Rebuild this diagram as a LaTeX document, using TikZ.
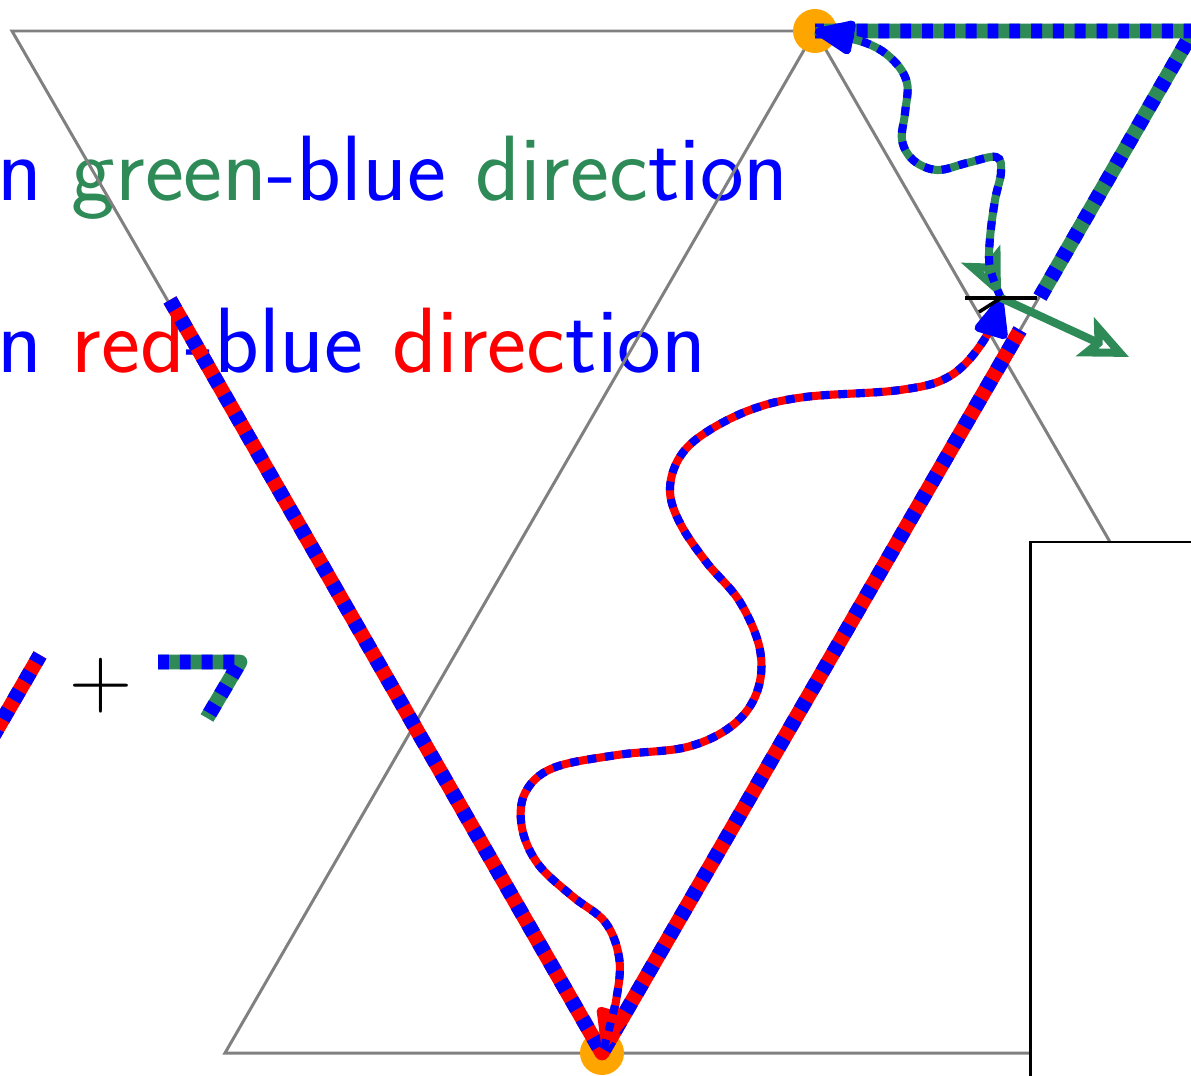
\documentclass[tikz,border=0pt]{standalone}
\usepackage{xcolor}
\usepackage{tikz}
\usetikzlibrary{arrows.meta}
\definecolor{linegreen}{HTML}{2E8B57}
\definecolor{lineorange}{HTML}{FFA500}
\definecolor{linegray}{HTML}{808080}

\begin{document}
\begin{tikzpicture}[x=0.01cm,y=-0.01cm,
  lattice/.style={linegray,line width=0.85pt},
  thickbase/.style={line width=4.2pt,line join=round},
  thickdash/.style={line width=4.2pt,line join=round,dash pattern=on 3.1pt off 3.1pt},
  wavybase/.style={line width=2.3pt},
  wavydash/.style={line width=2.3pt,dash pattern=on 2.5pt off 2.5pt},
  bigtext/.style={anchor=base west,inner sep=0pt,font=\sffamily\fontsize{26.4}{32}\selectfont},
  fulltip/.tip={Triangle[length=4.6mm,width=3.6mm,round]},
  opentip/.tip={Stealth[open,length=4.8mm,width=4.2mm,inset=1mm]}]
\useasboundingbox (0,0) rectangle (1191,1076);
\clip (0,0) rectangle (1191,1076);
\coordinate (P) at (1001,298);
\coordinate (topdot) at (815,31);
\coordinate (botdot) at (602,1053);
\coordinate (gtip) at (1129,357);
\node[bigtext] (gbtext) at (-3,201) {\color{blue}n \color{linegreen}green\color{blue}-blue \color{linegreen}direc\color{blue}tion};
\node[bigtext] (rbtext) at (-3,372) {\color{blue}n \color{red}red\color{blue}-blue \color{red}direc\color{blue}tion};
\draw[lattice] (1300,31) -- (12,31) -- (botdot);
\draw[lattice] (1193,31) -- (botdot);
\draw[lattice] (topdot) -- (225,1053) -- (1300,1053);
\draw[lattice] (topdot) -- (1405,1053);
\draw[line width=0.85pt,fill=white] (1030,542) rectangle (1300,1200);
\fill[lineorange] (topdot) circle (22);
\fill[lineorange] (botdot) circle (22);
\draw[thickbase,red] (170,300) -- (botdot) -- (1020,330);
\draw[thickdash,blue] (170,300) -- (botdot) -- (1020,330);
\draw[thickbase,linegreen] (1040,297) -- (1193,31) -- (topdot);
\draw[thickdash,blue] (1040,297) -- (1193,31) -- (topdot);
\draw[wavybase,red,fulltip-] plot[smooth,tension=0.6] coordinates {(604,1048) (617,995) (619,957) (605,922) (572,896) (538,864) (522,828) (525,793) (553,768) (617,755) (687,747) (733,725) (757,692) (760,650) (740,602) (707,563) (681,525) (670,492) (678,460) (702,435) (750,410) (805,397) (900,390) (950,376) (984,340) (P)};
\draw[wavydash,blue,-fulltip] plot[smooth,tension=0.6] coordinates {(604,1048) (617,995) (619,957) (605,922) (572,896) (538,864) (522,828) (525,793) (553,768) (617,755) (687,747) (733,725) (757,692) (760,650) (740,602) (707,563) (681,525) (670,492) (678,460) (702,435) (750,410) (805,397) (900,390) (950,376) (984,340) (P)};
\draw[wavybase,linegreen,opentip-] plot[smooth,tension=0.6] coordinates {(P) (990,268) (990,238) (995,200) (1001,172) (996,157) (967,163) (937,170) (913,160) (902,140) (905,113) (907,83) (893,60) (866,43) (topdot)};
\draw[wavydash,blue,-fulltip] plot[smooth,tension=0.6] coordinates {(P) (990,268) (990,238) (995,200) (1001,172) (996,157) (967,163) (937,170) (913,160) (902,140) (905,113) (907,83) (893,60) (866,43) (topdot)};
\draw[linegreen,line width=2.3pt,-opentip] (P) -- (gtip);
\draw[line width=1pt] (965,298) -- (1037,298);
\draw[line width=1pt] (979,312) -- (P);
\draw[thickbase,red] (40,655) -- (-8,738);
\draw[thickdash,blue] (-8,738) -- (40,655);
\node[inner sep=0pt,font=\fontsize{24.5}{30}\selectfont] (plus) at (101,686) {$+$};
\draw[thickbase,linegreen] (158,662) -- (240,662) -- (207,718);
\draw[thickdash,blue] (158,662) -- (240,662) -- (207,718);
\end{tikzpicture}
\end{document}
